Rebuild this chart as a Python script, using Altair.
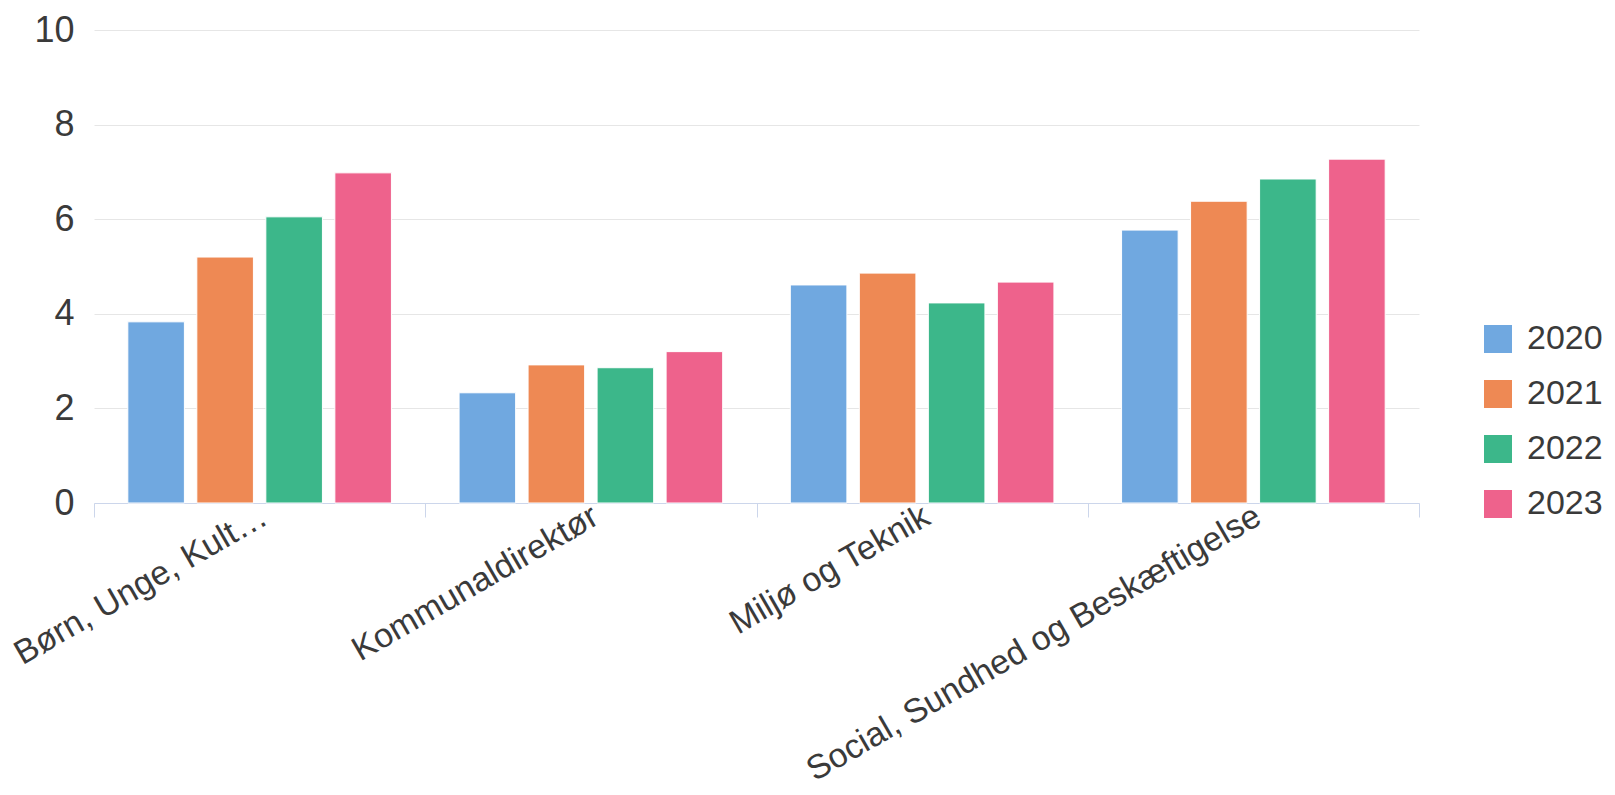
import altair as alt
import pandas as pd

categories = ["Børn, Unge, Kult…", "Kommunaldirektør", "Miljø og Teknik", "Social, Sundhed og Beskæftigelse"]
years = ["2020", "2021", "2022", "2023"]
v2020 = [3.83, 2.33, 4.61, 5.77]
v2021 = [5.20, 2.92, 4.86, 6.38]
v2022 = [6.05, 2.86, 4.23, 6.85]
v2023 = [6.98, 3.20, 4.67, 7.27]
colors = ["#70a8e0", "#ee8954", "#3cb78a", "#ee628c"]

series = {"2020": v2020, "2021": v2021, "2022": v2022, "2023": v2023}
rows = []
for y in years:
    for c, v in zip(categories, series[y]):
        rows.append({"category": c, "year": y, "value": v})
df = pd.DataFrame(rows)

FONT = "Liberation Sans"
TXT = "#3a3a3a"

chart = alt.Chart(df).mark_bar(stroke="white", strokeWidth=1).encode(
    x=alt.X("category:N", sort=categories, title=None,
            scale=alt.Scale(paddingInner=0, paddingOuter=0),
            axis=alt.Axis(labelAngle=-30, labelFontSize=34, labelFont=FONT, labelColor=TXT,
                          tickBand="extent", tickSize=14, tickColor="#ccd6eb",
                          domainColor="#ccd6eb", labelPadding=-18, labelOffset=-4,
                          labelLimit=0, grid=False)),
    xOffset=alt.XOffset("year:N", sort=years,
                        scale=alt.Scale(paddingInner=0.18, paddingOuter=0.49)),
    y=alt.Y("value:Q", title=None,
            scale=alt.Scale(domain=[0, 10], nice=False),
            axis=alt.Axis(values=[0, 2, 4, 6, 8, 10], labelFontSize=36, labelFont=FONT,
                          labelColor=TXT, ticks=False, domain=False, labelPadding=20,
                          gridColor="#e6e6e6", gridWidth=1)),
    color=alt.Color("year:N", sort=years,
                    scale=alt.Scale(domain=years, range=colors),
                    legend=alt.Legend(title=None, orient="none", legendX=1387, legendY=292,
                                      symbolType="square", symbolSize=784, symbolStrokeWidth=0,
                                      labelFontSize=34, labelFont=FONT, labelColor=TXT,
                                      labelOffset=12, rowPadding=21, padding=0)),
).properties(
    width=1325, height=473,
    autosize=alt.AutoSizeParams(type="none"),
    padding={"left": 86, "top": 22, "right": 188, "bottom": 284},
).configure_view(stroke=None)

chart.save("out.html", embed_options={"renderer": "svg", "actions": False})
